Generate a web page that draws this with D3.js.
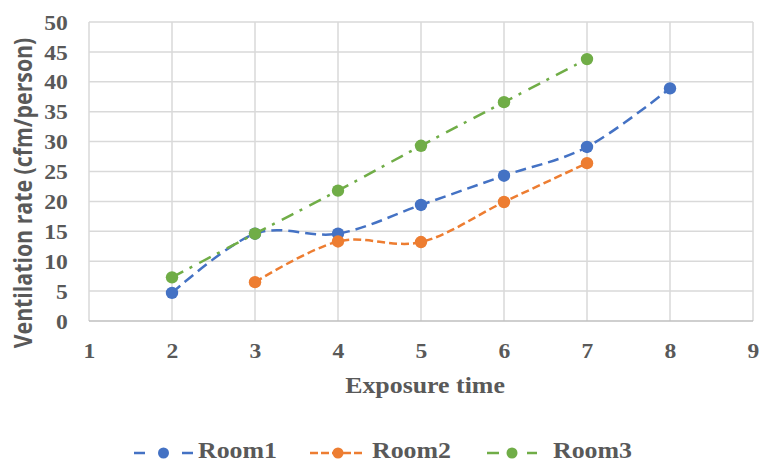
<!DOCTYPE html>
<html><head><meta charset="utf-8">
<script src="https://cdn.jsdelivr.net/npm/d3@7/dist/d3.min.js"></script>
<style>body{margin:0;background:#fff}svg{display:block}</style>
</head><body>
<svg id="c" width="760" height="464"></svg>
<script>
const exposureTimes = [1,2,3,4,5,6,7,8,9];
const yTicks = [0,5,10,15,20,25,30,35,40,45,50];
const seriesNames = ["Room1","Room2","Room3"];
const room1X = [2,3,4,5,6,7,8];
const room1Y = [4.7,14.6,14.6,19.4,24.3,29.1,38.9];
const room2X = [3,4,5,6,7];
const room2Y = [6.5,13.3,13.2,19.9,26.4];
const room3X = [2,3,4,5,6,7];
const room3Y = [7.3,14.6,21.8,29.3,36.6,43.8];
const colors = ["#4472C4","#ED7D31","#70AD47"];
const dashes = ["11,6","8,4","13,7,3,8"];
const legendDashes = ["11,37,11","8,3,8,3,8,3,8,3,8","12,28,12"];

const svg = d3.select("#c");
const SX = 1.15;
const x = d3.scaleLinear().domain([1,9]).range([89,753]);
const y = d3.scaleLinear().domain([0,50]).range([321,22]);
const serif = "'Liberation Serif','Times New Roman',serif";
const gray = "#595959";

// gridlines
svg.append("g").selectAll("line.v").data(exposureTimes).join("line")
  .attr("x1",d=>x(d)).attr("x2",d=>x(d)).attr("y1",y(0)).attr("y2",y(50))
  .attr("stroke","#D9D9D9").attr("stroke-width",1.5);
svg.append("g").selectAll("line.h").data(yTicks).join("line")
  .attr("x1",x(1)).attr("x2",x(9)).attr("y1",d=>y(d)).attr("y2",d=>y(d))
  .attr("stroke",d=>d===0?"#BFBFBF":"#D9D9D9").attr("stroke-width",1.5);

// axes (labels only)
const xAxis = svg.append("g").attr("transform",`translate(0,${y(0)})`)
  .call(d3.axisBottom(x).tickValues(exposureTimes).tickSize(0).tickPadding(0).tickFormat(d3.format("d")));
xAxis.select(".domain").remove();
xAxis.selectAll("text").attr("y",37).attr("dy",null)
  .attr("transform",`scale(${SX},1)`)
  .style("font-family",serif).style("font-weight","bold").style("font-size","20.5px").attr("fill",gray);

const yAxis = svg.append("g").attr("transform",`translate(${x(1)},0)`)
  .call(d3.axisLeft(y).tickValues(yTicks).tickSize(0).tickPadding(0).tickFormat(d3.format("d")));
yAxis.select(".domain").remove();
yAxis.selectAll("text").attr("x",-18.5).attr("dy","0.35em")
  .attr("transform",`scale(${SX},1)`)
  .style("font-family",serif).style("font-weight","bold").style("font-size","20.5px").attr("fill",gray);

// axis titles
svg.append("text").attr("transform",`translate(425,393) scale(${SX},1)`)
  .attr("text-anchor","middle").style("font-family",serif).style("font-weight","bold")
  .style("font-size","22.5px").attr("fill",gray).text("Exposure time");
svg.append("text").attr("transform",`translate(32,193) rotate(-90) scale(1,${SX})`)
  .attr("text-anchor","middle").style("font-family","'Open Sans',sans-serif").style("font-weight","bold")
  .style("font-size","21.3px").attr("fill",gray).text("Ventilation rate (cfm/person)");

// series
const series = [
  {name:seriesNames[0], xs:room1X, ys:room1Y},
  {name:seriesNames[1], xs:room2X, ys:room2Y},
  {name:seriesNames[2], xs:room3X, ys:room3Y}
];
const line = d3.line().x(d=>x(d[0])).y(d=>y(d[1])).curve(d3.curveCardinal.tension(0));
series.forEach((s,i)=>{
  const pts = s.xs.map((v,j)=>[v,s.ys[j]]);
  svg.append("path").datum(pts).attr("d",line).attr("fill","none")
    .attr("stroke",colors[i]).attr("stroke-width",2.5).attr("stroke-dasharray",dashes[i]);
  svg.append("g").selectAll("circle").data(pts).join("circle")
    .attr("cx",d=>x(d[0])).attr("cy",d=>y(d[1])).attr("r",6.2).attr("fill",colors[i]);
});

// legend
const legX = [134,310,487];
const legW = [59,56,50];
const legTextX = [198,372,553];
series.forEach((s,i)=>{
  const g = svg.append("g");
  g.append("line").attr("x1",legX[i]).attr("x2",legX[i]+legW[i]).attr("y1",453).attr("y2",453)
    .attr("stroke",colors[i]).attr("stroke-width",2.5).attr("stroke-dasharray",legendDashes[i]);
  g.append("circle").attr("cx",legX[i]+legW[i]/2).attr("cy",453).attr("r",5.5).attr("fill",colors[i]);
  g.append("text").attr("transform",`translate(${legTextX[i]},458) scale(${SX},1)`)
    .style("font-family",serif).style("font-weight","bold").style("font-size","22.5px")
    .attr("fill",gray).text(s.name);
});
</script>
</body></html>
